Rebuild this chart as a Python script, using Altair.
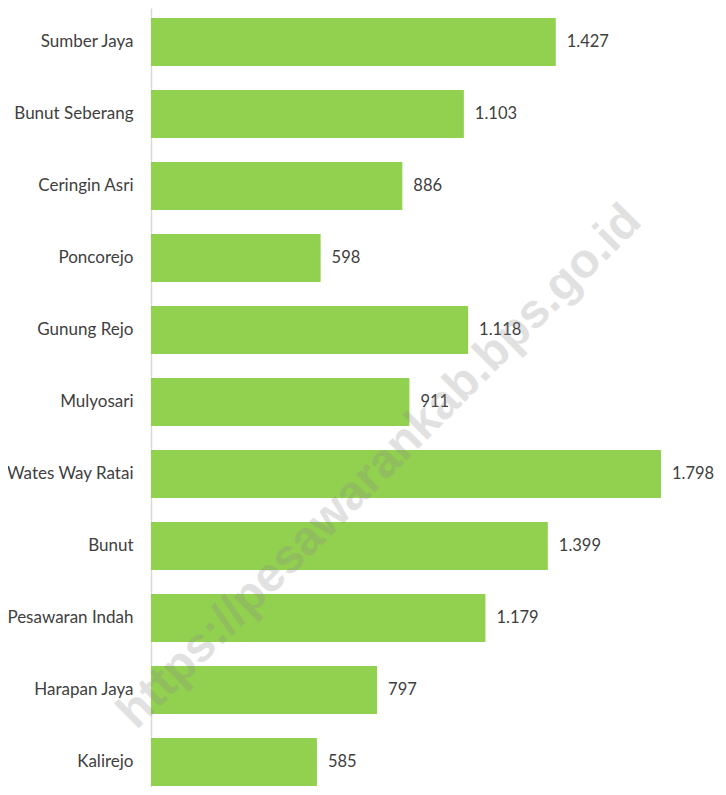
import altair as alt
import pandas as pd

categories = ["Sumber Jaya", "Bunut Seberang", "Ceringin Asri", "Poncorejo", "Gunung Rejo",
              "Mulyosari", "Wates Way Ratai", "Bunut", "Pesawaran Indah", "Harapan Jaya", "Kalirejo"]
values = [1427, 1103, 886, 598, 1118, 911, 1798, 1399, 1179, 797, 585]
watermark = "https://pesawarankab.bps.go.id"

df = pd.DataFrame({
    "desa": categories,
    "nilai": values,
    "label": [f"{v:,}".replace(",", ".") for v in values],
})

FONT = "Lato"
W, H = 530, 779
XMAX = 1798 * W / 510

y_enc = alt.Y("desa:N", sort=categories, title=None,
              scale=alt.Scale(paddingInner=0.3333, paddingOuter=0.0764, align=0.91),
              axis=alt.Axis(ticks=False, grid=False, domain=True, domainColor="#d9d9d9",
                            domainWidth=1.5, labelPadding=18, labelFont=FONT,
                            labelFontSize=17, labelColor="#404040", labelLimit=250))
x_enc = alt.X("nilai:Q", title=None, scale=alt.Scale(domain=[0, XMAX], nice=False),
              axis=None)

bars = alt.Chart(df).mark_bar(color="#92D050").encode(x=x_enc, y=y_enc)
texts = alt.Chart(df).mark_text(align="left", baseline="middle", dx=11, font=FONT,
                                fontSize=16.5, color="#404040").encode(
    x=x_enc, y=alt.Y("desa:N", sort=categories), text="label:N")

wm = alt.Chart(pd.DataFrame({"t": [watermark]})).mark_text(
    align="center", baseline="middle", angle=315, font="Liberation Sans",
    fontWeight="bold", fontSize=48, color="#8c8c8c", opacity=0.25).encode(
    x=alt.value(229), y=alt.value(459), text="t:N")

chart = alt.layer(bars, texts, wm).properties(
    width=W, height=H,
    autosize=alt.AutoSizeParams(type="none"),
    padding={"left": 143, "top": 0, "right": 37, "bottom": 0},
).configure_view(stroke=None)

chart.save("out.html", embed_options={"renderer": "svg", "actions": False})
